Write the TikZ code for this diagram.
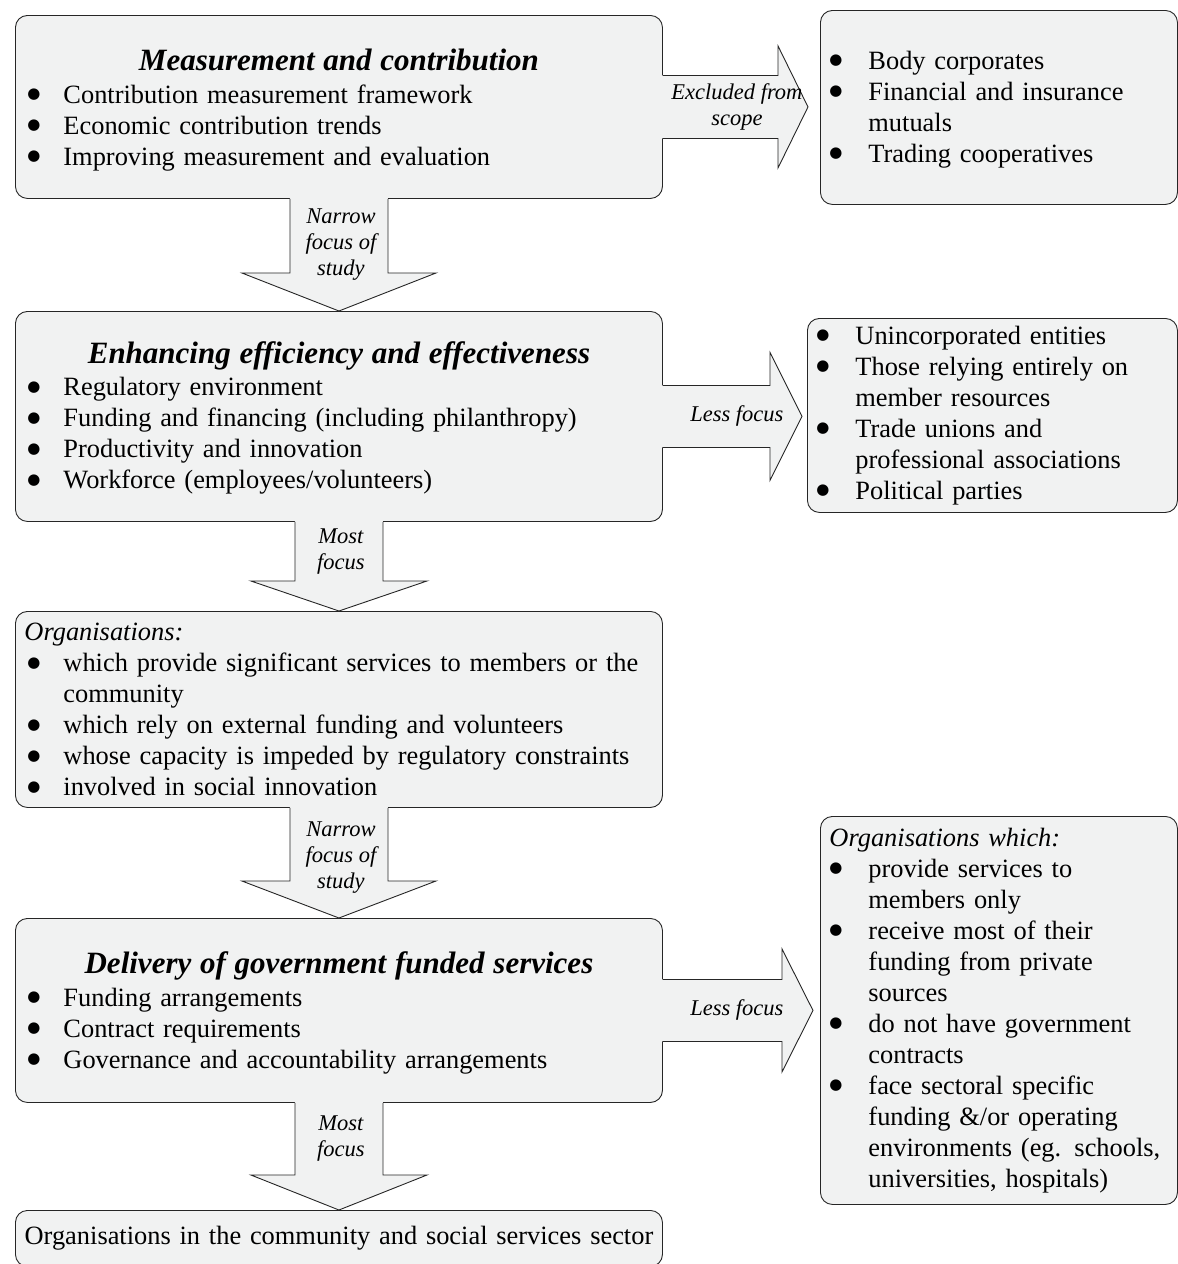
\documentclass[tikz,border=0pt]{standalone}
\usepackage{fontspec}
\setmainfont{Liberation Serif}
\newfontfamily\dotfont{DejaVu Sans}
\usetikzlibrary{calc}
\definecolor{boxgray}{HTML}{F1F2F2}
\definecolor{edgegray}{HTML}{262626}
\newcommand{\bodyfont}{\fontsize{26.4}{31}\selectfont}
\newcommand{\titlefont}{\fontsize{31}{34}\selectfont\bfseries\itshape}
\newcommand{\bulgap}{3pt}
\newcommand{\firstbul}{\noindent\hangindent=39pt\hangafter=1%
  \makebox[39pt][l]{\hspace{\bulgap}\smash{\raisebox{4.5pt}{\dotfont\fontsize{15}{15}\selectfont ●}}}}
\newcommand{\bul}{\par\firstbul}
\newcommand{\boxtitle}[1]{{\titlefont\centering #1\par}\vspace{1.5pt}}
\newcommand{\padend}[1]{\par\vspace{#1}\hrule height 0pt}
% block arrow down: from, to, body half, head half, head length, label offset, label
\newcommand{\flowdown}[7]{%
  \fill[arrowfill] let \p1=(#1.south), \p2=(#2.north) in
    (\x1-#3,\y1+2) -- (\x1-#3,\y2+#5) -- (\x1-#4,\y2+#5) -- (\x1,\y2)
    -- (\x1+#4,\y2+#5) -- (\x1+#3,\y2+#5) -- (\x1+#3,\y1+2) -- cycle;
  \draw[arrowline] let \p1=(#1.south), \p2=(#2.north) in
    (\x1-#3,\y1) -- (\x1-#3,\y2+#5) -- (\x1-#4,\y2+#5) -- (\x1,\y2)
    -- (\x1+#4,\y2+#5) -- (\x1+#3,\y2+#5) -- (\x1+#3,\y1);
  \node[arrowlabel] (#1-lbl) at ($(#1.south)+(2,#6)$) {#7};
}
% block arrow right: from, to, body half, head half, head length, gap, label
\newcommand{\flowright}[7]{%
  \fill[arrowfill] let \p1=(#1.east), \p2=(#2.west) in
    (\x1-2,\y1+#3) -- (\x2-#6-#5,\y1+#3) -- (\x2-#6-#5,\y1+#4) -- (\x2-#6,\y1)
    -- (\x2-#6-#5,\y1-#4) -- (\x2-#6-#5,\y1-#3) -- (\x1-2,\y1-#3) -- cycle;
  \draw[arrowline] let \p1=(#1.east), \p2=(#2.west) in
    (\x1,\y1+#3) -- (\x2-#6-#5,\y1+#3) -- (\x2-#6-#5,\y1+#4) -- (\x2-#6,\y1)
    -- (\x2-#6-#5,\y1-#4) -- (\x2-#6-#5,\y1-#3) -- (\x1,\y1-#3);
  \node[arrowlabel] (#2-lbl) at ($(#1.east)+(74,0)$) {#7};
}
\tikzset{
  mainbox/.style={draw=edgegray, fill=boxgray, line width=0.9pt, rounded corners=12pt,
    anchor=north west, text width=629pt, inner xsep=9pt, inner ysep=0pt,
    align=left, font=\bodyfont},
  sidebox/.style={mainbox, text width=339pt, execute at begin node={\def\bulgap{0pt}}},
  arrowfill/.style={fill=boxgray},
  arrowline/.style={draw=edgegray, line width=0.9pt, line join=miter},
  arrowlabel/.style={font=\fontsize{22.5}{26}\selectfont\itshape, align=center, inner sep=0pt}
}
\begin{document}
\begin{tikzpicture}[x=1pt, y=-1pt]
  \useasboundingbox (0,0) rectangle (1178,1264);

  % left column
  \node[mainbox, minimum height=183pt] (meas) at (15,15) {%
    \boxtitle{Measurement and contribution}
    \bul Contribution measurement framework
    \bul Economic contribution trends
    \bul Improving measurement and evaluation\padend{-6pt}};
  \node[mainbox, minimum height=210pt] (effic) at (15,311) {%
    \boxtitle{Enhancing efficiency and effectiveness}
    \bul Regulatory environment
    \bul Funding and financing (including philanthropy)
    \bul Productivity and innovation
    \bul Workforce (employees/volunteers)\padend{-3pt}};
  \node[mainbox, minimum height=196pt] (orgs) at (15,611) {%
    \textit{Organisations:}
    \bul which provide significant services to members or the\newline community
    \bul which rely on external funding and volunteers
    \bul whose capacity is impeded by regulatory constraints
    \bul involved in social innovation\par};
  \node[mainbox, minimum height=184pt] (deliv) at (15,918) {%
    \boxtitle{Delivery of government funded services}
    \bul Funding arrangements
    \bul Contract requirements
    \bul Governance and accountability arrangements\padend{-5pt}};
  \node[mainbox, align=center, text width=641pt, inner xsep=3pt, minimum height=56pt] (sector) at (15,1210)
    {Organisations in the community and social services sector};

  % right column
  \node[sidebox, minimum height=194pt] (excl) at (820,10) {%
    \firstbul Body corporates
    \bul Financial and insurance\newline mutuals
    \bul Trading cooperatives\padend{-4pt}};
  \node[sidebox, text width=352pt, minimum height=194pt] (lessa) at (807,318) {%
    \firstbul Unincorporated entities
    \bul Those relying entirely on\newline member resources
    \bul Trade unions and\newline professional associations
    \bul Political parties\padend{0pt}};
  \node[sidebox, minimum height=388pt] (lessb) at (820,816) {%
    \textit{Organisations which:}
    \bul provide services to\newline members only
    \bul receive most of their\newline funding from private\newline sources
    \bul do not have government\newline contracts
    \bul face sectoral specific\newline funding \&/or operating\newline environments (eg. schools,\newline universities, hospitals)\par};

  % block arrows
  \flowdown{meas}{effic}{49}{97}{38}{46}{Narrow\\focus of\\study}
  \flowdown{effic}{orgs}{44}{88}{30}{30}{Most\\focus}
  \flowdown{orgs}{deliv}{49}{97}{37}{50}{Narrow\\focus of\\study}
  \flowdown{deliv}{sector}{44}{88}{35}{36}{Most\\focus}

  \flowright{meas}{excl}{31.5}{61}{30}{12}{Excluded from\\scope}
  \flowright{effic}{lessa}{31}{64}{32}{5}{Less focus}
  \flowright{deliv}{lessb}{31}{61.5}{31}{7}{Less focus}
\end{tikzpicture}
\end{document}
